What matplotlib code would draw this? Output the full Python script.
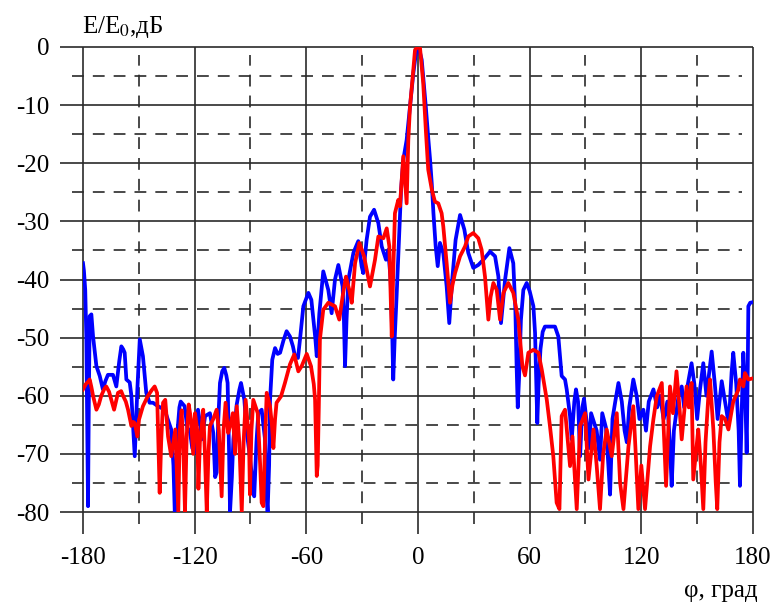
import numpy as np
import matplotlib
matplotlib.use("Agg")
import matplotlib.pyplot as plt

plt.rcParams['font.family'] = ['Liberation Serif', 'DejaVu Serif']
plt.rcParams['mathtext.fontset'] = 'stix'
plt.rcParams['lines.scale_dashes'] = False

# blue pattern (angle in degrees, level in dB)
blue_deg = [-180, -179.5, -178.8, -178.2, -177.6, -177.3, -176.9, -176.4, -175.5, -174.6,
            -172.8, -171, -169.3, -168, -166.6, -163.9, -162.1, -160.5, -159.4, -158.4,
            -157.6, -156.7, -154.9, -154, -152.2, -150.8, -149.5, -147.8, -146, -144.2,
            -142.4, -139.7, -136.1, -134.5, -132.6, -131.4, -130.7, -130, -129.2, -128.2,
            -127.5, -125.4, -123.8, -122.7, -121.3, -120, -119, -118.2, -117, -116.2,
            -114.4, -111.8, -110, -109, -108.2, -107.3, -106.4, -105.2, -104.1, -103,
            -102.3, -101.5, -101, -100, -99.2, -97.4, -96, -95.1, -93.3, -92,
            -90.5, -89, -88, -86.8, -85.8, -84, -82.2, -81.2, -80.8, -80,
            -79.5, -78.3, -76.8, -75.4, -74.1, -72.3, -70.6, -68.8, -67.2, -66.1,
            -64.5, -63.4, -61.6, -58.9, -57.3, -56.2, -55.2, -54.4, -53, -50.9,
            -48.2, -46.4, -44.6, -42.8, -40.5, -39.8, -39.2, -38.4, -37.4, -34.7,
            -32.1, -30.3, -29.4, -27.6, -25.8, -23.6, -21.3, -19.5, -17.2, -16,
            -14.7, -13.8, -13.3, -12.5, -11.5, -10, -9.1, -7.9, -6.1, -4.3,
            -2.5, -1, -0.2, 0.8, 2, 4.2, 5.6, 6.5, 7.4, 8.3,
            9.5, 10.6, 11.8, 13.6, 15.4, 16.8, 18.4, 20.2, 22.6, 24.9,
            27, 29.7, 32.4, 35.1, 38.7, 41.4, 43.2, 44.6, 46.8, 49.1,
            51.2, 52.3, 53, 53.6, 54.3, 55.3, 56.6, 58.4, 60, 62,
            62.9, 63.6, 64.1, 64.8, 65.8, 67, 68.2, 70.9, 73.6, 75.4,
            76.5, 77.2, 79, 79.9, 81.7, 82.6, 84, 84.9, 86, 87.1,
            88.3, 89.2, 90.7, 92, 93, 94.5, 96, 97.8, 99, 101,
            102.3, 103.2, 104.5, 106, 107.7, 109.5, 111, 112.2, 113.5, 115.7,
            117.5, 119, 121.1, 122.5, 124, 126.5, 128.5, 130, 132, 134,
            135.3, 136.3, 137.5, 140, 141.7, 143, 145, 147, 148.5, 150,
            151.5, 153.3, 155, 156.5, 157.8, 159.5, 161, 163.2, 165, 167,
            168.5, 169.4, 171, 172.3, 173, 174, 174.8, 175.7, 176.6, 177.2,
            177.5, 178.5, 180]
blue_db = [-37.2, -38.5, -41.8, -50, -70, -79, -62, -46.3, -46, -49.8,
           -54.9, -56.6, -58.9, -57.5, -56.4, -56.4, -58.4, -54, -51.5, -52,
           -52.6, -57.2, -57.7, -60, -70.4, -58.9, -50.3, -53.2, -59.5, -61.2,
           -61.2, -61.8, -62.4, -64, -65.8, -72, -80, -79, -66, -62,
           -61, -61.8, -66, -65.8, -69, -69.8, -64, -62.4, -65, -67.5,
           -63.5, -63, -66.4, -74, -73.2, -64, -57.8, -55.8, -55.2, -56.5,
           -57.8, -70, -80, -74, -67.5, -61.5, -59, -57.8, -60.7, -66.4,
           -70, -74.5, -77.3, -68, -63, -62.4, -67.5, -78, -80, -72,
           -60.7, -53.8, -51.8, -52.8, -52.6, -50.5, -48.9, -49.8, -51.5, -53.2,
           -53.5, -50.3, -44.6, -42.3, -43.5, -46.9, -50, -53.2, -45.8, -38.6,
           -41.8, -45.8, -40, -37.5, -41.2, -47, -54.9, -47, -40, -35.4,
           -33.4, -37.7, -38.9, -33.2, -29.2, -28, -30.3, -34.3, -36.6, -34.9,
           -40, -50, -57.2, -50, -42.9, -31.4, -24.6, -19.4, -16, -10.3,
           -4.5, -0.8, -0.2, -0.6, -2.2, -10.3, -16, -19.4, -23.5, -28.6,
           -34.3, -37.7, -33.7, -35.5, -41.2, -47.5, -40, -33.2, -28.9, -31.4,
           -35.4, -38, -37.5, -36.6, -35.2, -36, -39.5, -47.5, -40, -34.6,
           -37.2, -45, -55, -62, -57, -47, -41.8, -40.6, -42, -44.6,
           -49.2, -58, -64.7, -58, -52, -49, -48.1, -48.1, -48.1, -49.8,
           -54, -56.6, -57.2, -58.9, -63.5, -67.5, -61, -58.9, -61, -70.4,
           -62, -60.5, -64.7, -69, -63, -64.5, -66, -71, -63, -65.5,
           -72, -77, -64, -61, -57.8, -61, -66, -68, -62, -57.2,
           -60, -64, -62.4, -66, -61, -58.9, -62, -60, -64, -61,
           -68, -75.5, -66, -60, -58.4, -62, -58, -54.4, -58, -64,
           -59, -54.4, -60, -56, -52.4, -58, -64, -57.5, -61, -65,
           -56, -52.6, -58, -66, -75.5, -62, -52.6, -58, -69.8, -55,
           -44.6, -44, -43.9]

# red pattern
red_deg = [-180, -178.5, -177, -176.4, -175.5, -174.6, -172.8, -171.5, -170.2, -168.5,
           -167.5, -166, -164.8, -163.3, -161.2, -159.5, -158.5, -157, -155.8, -154,
           -153, -152.2, -150.8, -149.9, -147.8, -145.1, -143, -141.5, -140.2, -139.5,
           -138.8, -138, -137, -135.8, -134.3, -132.6, -130.4, -129.4, -128.8, -128,
           -127, -126, -125.2, -124.3, -123.2, -122, -120.8, -119.8, -118.6, -118,
           -117.2, -116.2, -115.4, -114.5, -113.5, -112.6, -111.8, -110, -108.2, -107,
           -105.5, -104.5, -103.4, -102, -100.8, -99.5, -98.3, -97.4, -96, -94.7,
           -93.7, -92.6, -90.8, -90.3, -89.5, -88.5, -86.1, -84.8, -84, -83.1,
           -82.2, -81.3, -79.5, -78.5, -77.7, -76.8, -76, -73.6, -71.5, -68.8,
           -66.5, -64.3, -62.5, -59.8, -57.5, -56, -55.3, -54.8, -54.4, -53.9,
           -53.3, -52.7, -50.9, -48.2, -44.6, -42.3, -40.5, -38.7, -36.9, -35.6,
           -33.8, -31.5, -29, -25.8, -23.1, -21.3, -18.6, -16.8, -15.4, -14.6,
           -14.1, -13.4, -12.4, -10.6, -9.7, -7.9, -7, -6.1, -5.2, -4.3,
           -3, -1.6, -0.2, 1.1, 2.8, 4.3, 5.5, 7.4, 9.1, 10.9,
           12.7, 13.6, 15.4, 17.2, 18.5, 19.9, 22.6, 25.3, 27, 29.7,
           32.4, 34.2, 36, 37.8, 39, 40.5, 42.3, 44.1, 45.9, 48.5,
           51.2, 53.9, 56.1, 57.5, 59.3, 62, 64.7, 66.5, 69.2, 70.9,
           72.7, 74.5, 76, 77.2, 79, 81.7, 83, 85.3, 87.1, 89.8,
           91.6, 94.3, 96, 97.8, 99.5, 101.4, 104.1, 106.8, 108.6, 110.4,
           113.1, 115.7, 117, 118.4, 120, 122, 124.7, 126.5, 128.3, 131,
           133.3, 135.4, 137, 138.9, 140.5, 141.7, 144.3, 145.5, 147, 147.9,
           150.6, 152, 153.3, 154.5, 156, 156.9, 158.7, 160, 160.8, 162,
           163.2, 165, 166.8, 169.4, 172.1, 173, 174.8, 175.7, 177.5, 180]
red_db = [-58.9, -58, -57.5, -57.2, -58.5, -60, -62.4, -61.5, -60, -58.8,
          -58.4, -59.3, -60.7, -62.4, -59.5, -59.2, -60, -61, -62.4, -65.2,
          -64.5, -64.7, -67, -64.1, -61.8, -60, -59, -58.4, -59.5, -68,
          -76.7, -68, -61.2, -60.7, -67, -70.4, -65.8, -75, -80, -66,
          -62.5, -70, -80, -67, -61.5, -64, -70, -63, -66, -76,
          -68, -65.2, -62.4, -70, -80, -70, -65.2, -64, -62.4, -66,
          -77.3, -66, -61.2, -66.4, -65, -63, -70, -61.8, -68, -80,
          -68, -60.7, -67.5, -77, -66, -60.7, -63, -72, -78.4, -79,
          -68, -59.5, -61.8, -65, -69, -64, -61.2, -60.1, -57.8, -54.6,
          -52.9, -55.8, -54.9, -52.8, -54.9, -58, -60.7, -68, -73.8, -72,
          -62, -50.3, -45.2, -44, -44.6, -46.9, -42.9, -39.5, -41.8, -44,
          -37.2, -33.7, -36, -41.2, -36.6, -32.6, -32.9, -31.2, -34.3, -44,
          -49.8, -40, -28.6, -26.3, -27.4, -18.8, -22.9, -26.9, -16, -10.3,
          -5.7, -0.5, 0, -0.2, -6.2, -14.8, -21.1, -24.5, -26.6, -26.9,
          -28.6, -30.9, -37.2, -44, -41, -38.9, -36, -34.3, -32.6, -32,
          -32.9, -34.9, -39.5, -46.9, -43, -40.6, -41.8, -46.9, -42.3, -40.6,
          -42.3, -46.9, -54.9, -56.5, -52.6, -52.1, -52.6, -55.5, -60.7, -65.2,
          -70.4, -78.4, -79.5, -63.5, -62.4, -72.1, -67, -79.5, -65.2, -63,
          -74.4, -65.8, -72, -79.5, -70, -65.8, -70.4, -63, -75, -79.5,
          -68.7, -61.8, -70, -79.5, -72, -79.5, -68.7, -64, -60.1, -57.8,
          -75.5, -58.4, -63, -55.8, -62, -67.5, -58.4, -62, -57.8, -74.4,
          -65.8, -72, -79.5, -68, -60.1, -57.2, -65.8, -75, -79.5, -68,
          -63.5, -64, -65.8, -61, -59, -57.2, -58.4, -56.1, -57.2, -57]

x_ticks = [-180, -120, -60, 0, 60, 120, 180]
x_dash = [-150, -90, -30, 30, 90, 150]
y_ticks = [0, -10, -20, -30, -40, -50, -60, -70, -80]
y_dash = [-5, -15, -25, -35, -45, -55, -65, -75]

fig = plt.figure(figsize=(7.75, 6.04), dpi=100)
ax = fig.add_axes([0.1071, 0.1523, 0.8645, 0.7699])
ax.set_xlim(-180, 180)
ax.set_ylim(-80, 0)
for s in ax.spines.values():
    s.set_visible(False)

grid_c = '#2a2a2a'
ax.hlines(y_ticks, -192.4, 180, colors=grid_c, linewidth=1.2, clip_on=False, zorder=1)
ax.hlines(y_dash, -185.9, 174.1, colors=grid_c, linewidth=1.2,
          linestyles=[(0, (8.5, 6.5))], clip_on=False, zorder=1)
ax.vlines(x_ticks, -83.8, 0, colors=grid_c, linewidth=1.2, clip_on=False, zorder=1)
ax.vlines(x_dash, -82.1, -1.4, colors=grid_c, linewidth=1.2,
          linestyles=[(0, (8.5, 6.5))], clip_on=False, zorder=1)

ax.plot(blue_deg, blue_db, color='#0000ff', linewidth=2.7,
        solid_joinstyle='round', zorder=3)
ax.plot(red_deg, red_db, color='#ff0000', linewidth=2.7,
        solid_joinstyle='round', zorder=4)

ax.set_xticks(x_ticks)
ax.set_xticklabels([str(v) for v in x_ticks])
ax.set_yticks(y_ticks)
ax.set_yticklabels([str(v) for v in y_ticks])
ax.tick_params(axis='both', length=0, labelsize=18, colors='black')
ax.tick_params(axis='y', pad=24)
ax.tick_params(axis='x', pad=25)

fig.text(82 / 775, 1 - 33 / 604, r'E/E$_{\mathrm{0}}$,дБ', fontsize=18, ha='left', va='baseline')
fig.text(758 / 775, 1 - 597 / 604, 'φ, град', fontsize=18, ha='right', va='baseline')

fig.savefig('out.png', dpi=100)
